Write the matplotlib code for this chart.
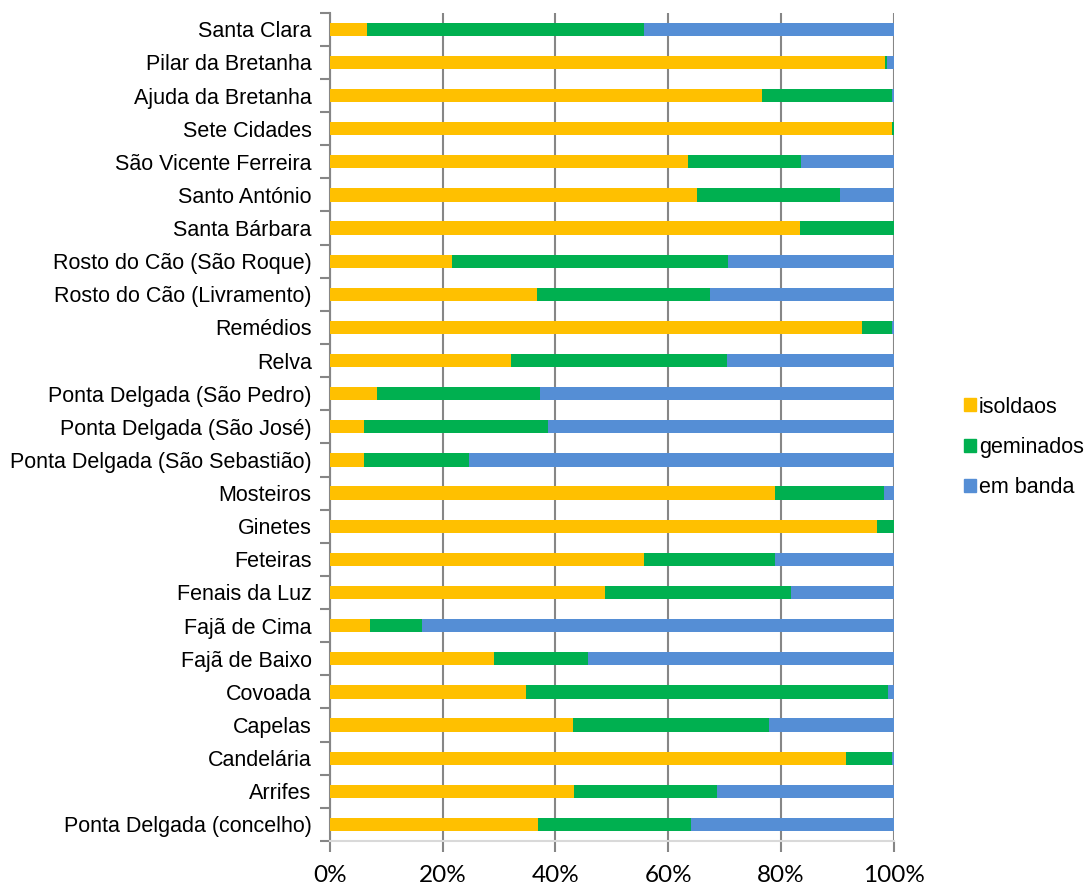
import matplotlib
matplotlib.use("Agg")
import matplotlib.pyplot as plt
import numpy as np
from matplotlib.patches import Rectangle
from matplotlib.ticker import FixedLocator, PercentFormatter

# freguesias, listed top to bottom
freguesias = [
    "Santa Clara", "Pilar da Bretanha", "Ajuda da Bretanha", "Sete Cidades",
    "São Vicente Ferreira", "Santo António", "Santa Bárbara",
    "Rosto do Cão (São Roque)", "Rosto do Cão (Livramento)", "Remédios", "Relva",
    "Ponta Delgada (São Pedro)", "Ponta Delgada (São José)",
    "Ponta Delgada (São Sebastião)", "Mosteiros", "Ginetes", "Feteiras",
    "Fenais da Luz", "Fajã de Cima", "Fajã de Baixo", "Covoada", "Capelas",
    "Candelária", "Arrifes", "Ponta Delgada (concelho)",
]

# share of buildings by type (%)
isolados = [6.7, 98.5, 76.7, 99.7, 63.6, 65.2, 83.4, 21.6, 36.7, 94.4, 32.1, 8.3, 6.1,
            6.0, 79.0, 97.1, 55.8, 48.8, 7.1, 29.2, 34.8, 43.1, 91.5, 43.4, 36.9]
geminados = [49.0, 0.3, 23.0, 0.3, 20.0, 25.3, 16.6, 49.1, 30.8, 5.3, 38.3, 29.0, 32.6,
             18.7, 19.2, 2.9, 23.2, 33.0, 9.2, 16.6, 64.2, 34.8, 8.2, 25.2, 27.1]
em_banda = [44.3, 1.2, 0.3, 0.0, 16.4, 9.5, 0.0, 29.3, 32.5, 0.3, 29.6, 62.7, 61.3,
            75.3, 1.8, 0.0, 21.0, 18.2, 83.7, 54.2, 1.0, 22.1, 0.3, 31.4, 36.0]

series = ["isoldaos", "geminados", "em banda"]
colors = ["#FFC000", "#00B050", "#558ED5"]

fig = plt.figure(figsize=(10.86, 8.86), dpi=100)
ax = fig.add_axes([0.3036, 0.0508, 0.5193, 0.9349])

y = np.arange(len(freguesias))
left = np.zeros(len(freguesias))
for vals, col in zip([isolados, geminados, em_banda], colors):
    vals = np.array(vals)
    ax.barh(y, vals, left=left, height=0.4, color=col, zorder=3)
    left += vals

ax.set_xlim(0, 100)
ax.set_ylim(len(freguesias) - 0.5, -0.5)

grid_col = "#868686"
ax.set_xticks(np.arange(0, 101, 20))
ax.xaxis.set_major_formatter(PercentFormatter(decimals=0))
ax.grid(axis="x", color=grid_col, linewidth=1.5, zorder=1)
ax.tick_params(axis="x", length=8, width=1.5, color=grid_col, pad=9.5,
               labelsize=17.5)
for lab in ax.get_xticklabels():
    lab.set_family("Lato")

ax.set_yticks(y)
ax.set_yticklabels(freguesias, fontsize=15.5, family="Liberation Sans")
ax.yaxis.set_minor_locator(FixedLocator(np.arange(len(freguesias) + 1) - 0.5))
ax.tick_params(axis="y", which="major", length=0, pad=13)
ax.tick_params(axis="y", which="minor", length=7, width=1.5, color=grid_col)

for side in ["top", "right"]:
    ax.spines[side].set_visible(False)
ax.spines["left"].set_color(grid_col)
ax.spines["left"].set_linewidth(1.5)
ax.spines["bottom"].set_color("#D9D9D9")
ax.spines["bottom"].set_linewidth(1.5)

handles = [Rectangle((0, 0), 1, 1, color=c) for c in colors]
fig.legend(handles, series, loc="center left", bbox_to_anchor=(0.8775, 0.495),
           frameon=False, prop={"family": "Liberation Sans", "size": 15.5},
           handlelength=0.55, handleheight=0.55, handletextpad=0.15,
           labelspacing=0.9, borderpad=0)

fig.savefig("out.png", dpi=100)
